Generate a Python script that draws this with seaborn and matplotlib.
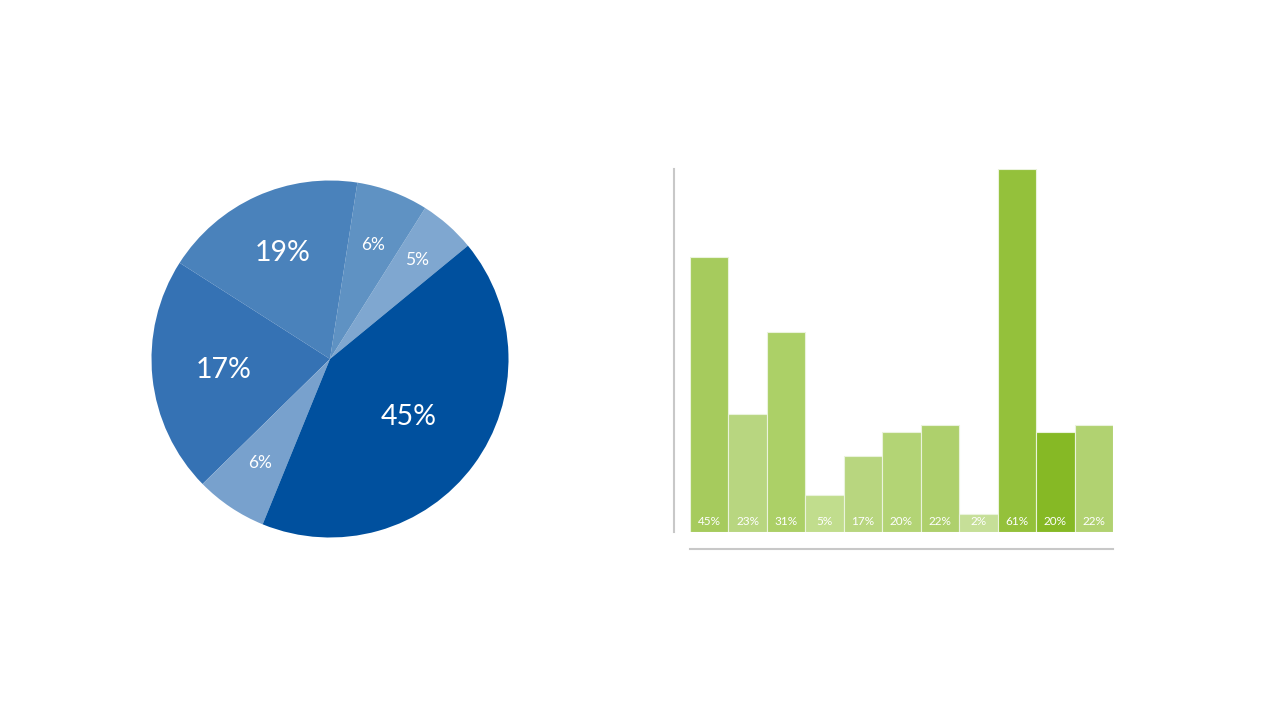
import numpy as np
import matplotlib
matplotlib.use('Agg')
import matplotlib.pyplot as plt
import seaborn as sns

# pie: slice sizes as drawn (degrees share), with the printed labels
pie_sizes = [5.1, 6.5, 18.4, 21.4, 6.5, 42.1]
pie_labels = ['5%', '6%', '19%', '17%', '6%', '45%']
pie_colors = ['#7fa7d0', '#5f92c3', '#4a82bb', '#3572b4', '#78a1cd', '#00509e']
pie_label_r = [0.74, 0.68, 0.65, 0.6, 0.7, 0.55]
pie_label_size = [12.5, 12.5, 20.5, 20.5, 12.5, 20.5]

# bars: heights as drawn, with the printed labels
bar_cats = list('ABCDEFGHIJK')
bar_heights = [46.2, 19.9, 33.6, 6.3, 12.8, 16.8, 17.9, 3.0, 61.0, 16.8, 17.9]
bar_labels = ['45%', '23%', '31%', '5%', '17%', '20%', '22%', '2%', '61%', '20%', '22%']
bar_colors = ['#a6cb5d', '#b8d680', '#acd067', '#c1dd8d', '#b8d67f', '#b3d475',
              '#aed06c', '#c6df98', '#94c13b', '#86b925', '#b1d271']

sns.set_theme(style='white')
plt.rcParams['font.family'] = ['Lato', 'DejaVu Sans']

fig = plt.figure(figsize=(12.8, 7.2), dpi=100)

########################################################################
# pie chart
cx, cy, r = 330, 359, 178.5
ax1 = fig.add_axes([(cx - r) / 1280, (720 - cy - r) / 720, 2 * r / 1280, 2 * r / 720])
wedges, _ = ax1.pie(pie_sizes, colors=pie_colors, startangle=39.4, counterclock=True,
                    wedgeprops=dict(linewidth=0))
for w, lbl, rr, fs in zip(wedges, pie_labels, pie_label_r, pie_label_size):
    mid = np.deg2rad((w.theta1 + w.theta2) / 2)
    ax1.text(rr * np.cos(mid), rr * np.sin(mid), lbl, ha='center', va='center',
             color='white', fontsize=fs)
ax1.set_xlim(-1, 1)
ax1.set_ylim(-1, 1)
ax1.set_aspect('equal')
ax1.axis('off')

########################################################################
# bar chart
ax2 = fig.add_axes([690 / 1280, (720 - 532) / 720, 423 / 1280, 363 / 720])
sns.barplot(x=bar_cats, y=bar_heights, hue=bar_cats, palette=bar_colors, width=1,
            saturation=1, legend=False, edgecolor='#eaf3dc', linewidth=0.8, ax=ax2)
for i, lbl in enumerate(bar_labels):
    ax2.annotate(lbl, (i, 0), xytext=(0, 3.5), textcoords='offset points',
                 ha='center', va='bottom', color='white', fontsize=8.5)
ax2.set_xlim(-0.5, len(bar_cats) - 0.5)
ax2.set_ylim(0, max(bar_heights))
ax2.set_xticks([])
ax2.set_yticks([])
ax2.set_xlabel('')
ax2.set_ylabel('')
for s in ['top', 'right']:
    ax2.spines[s].set_visible(False)
for s in ['left', 'bottom']:
    ax2.spines[s].set_color('#c8c8c8')
    ax2.spines[s].set_linewidth(1.5)
ax2.spines['left'].set_position(('outward', 11.5))
ax2.spines['bottom'].set_position(('outward', 12))

fig.savefig('out.png', dpi=100)
